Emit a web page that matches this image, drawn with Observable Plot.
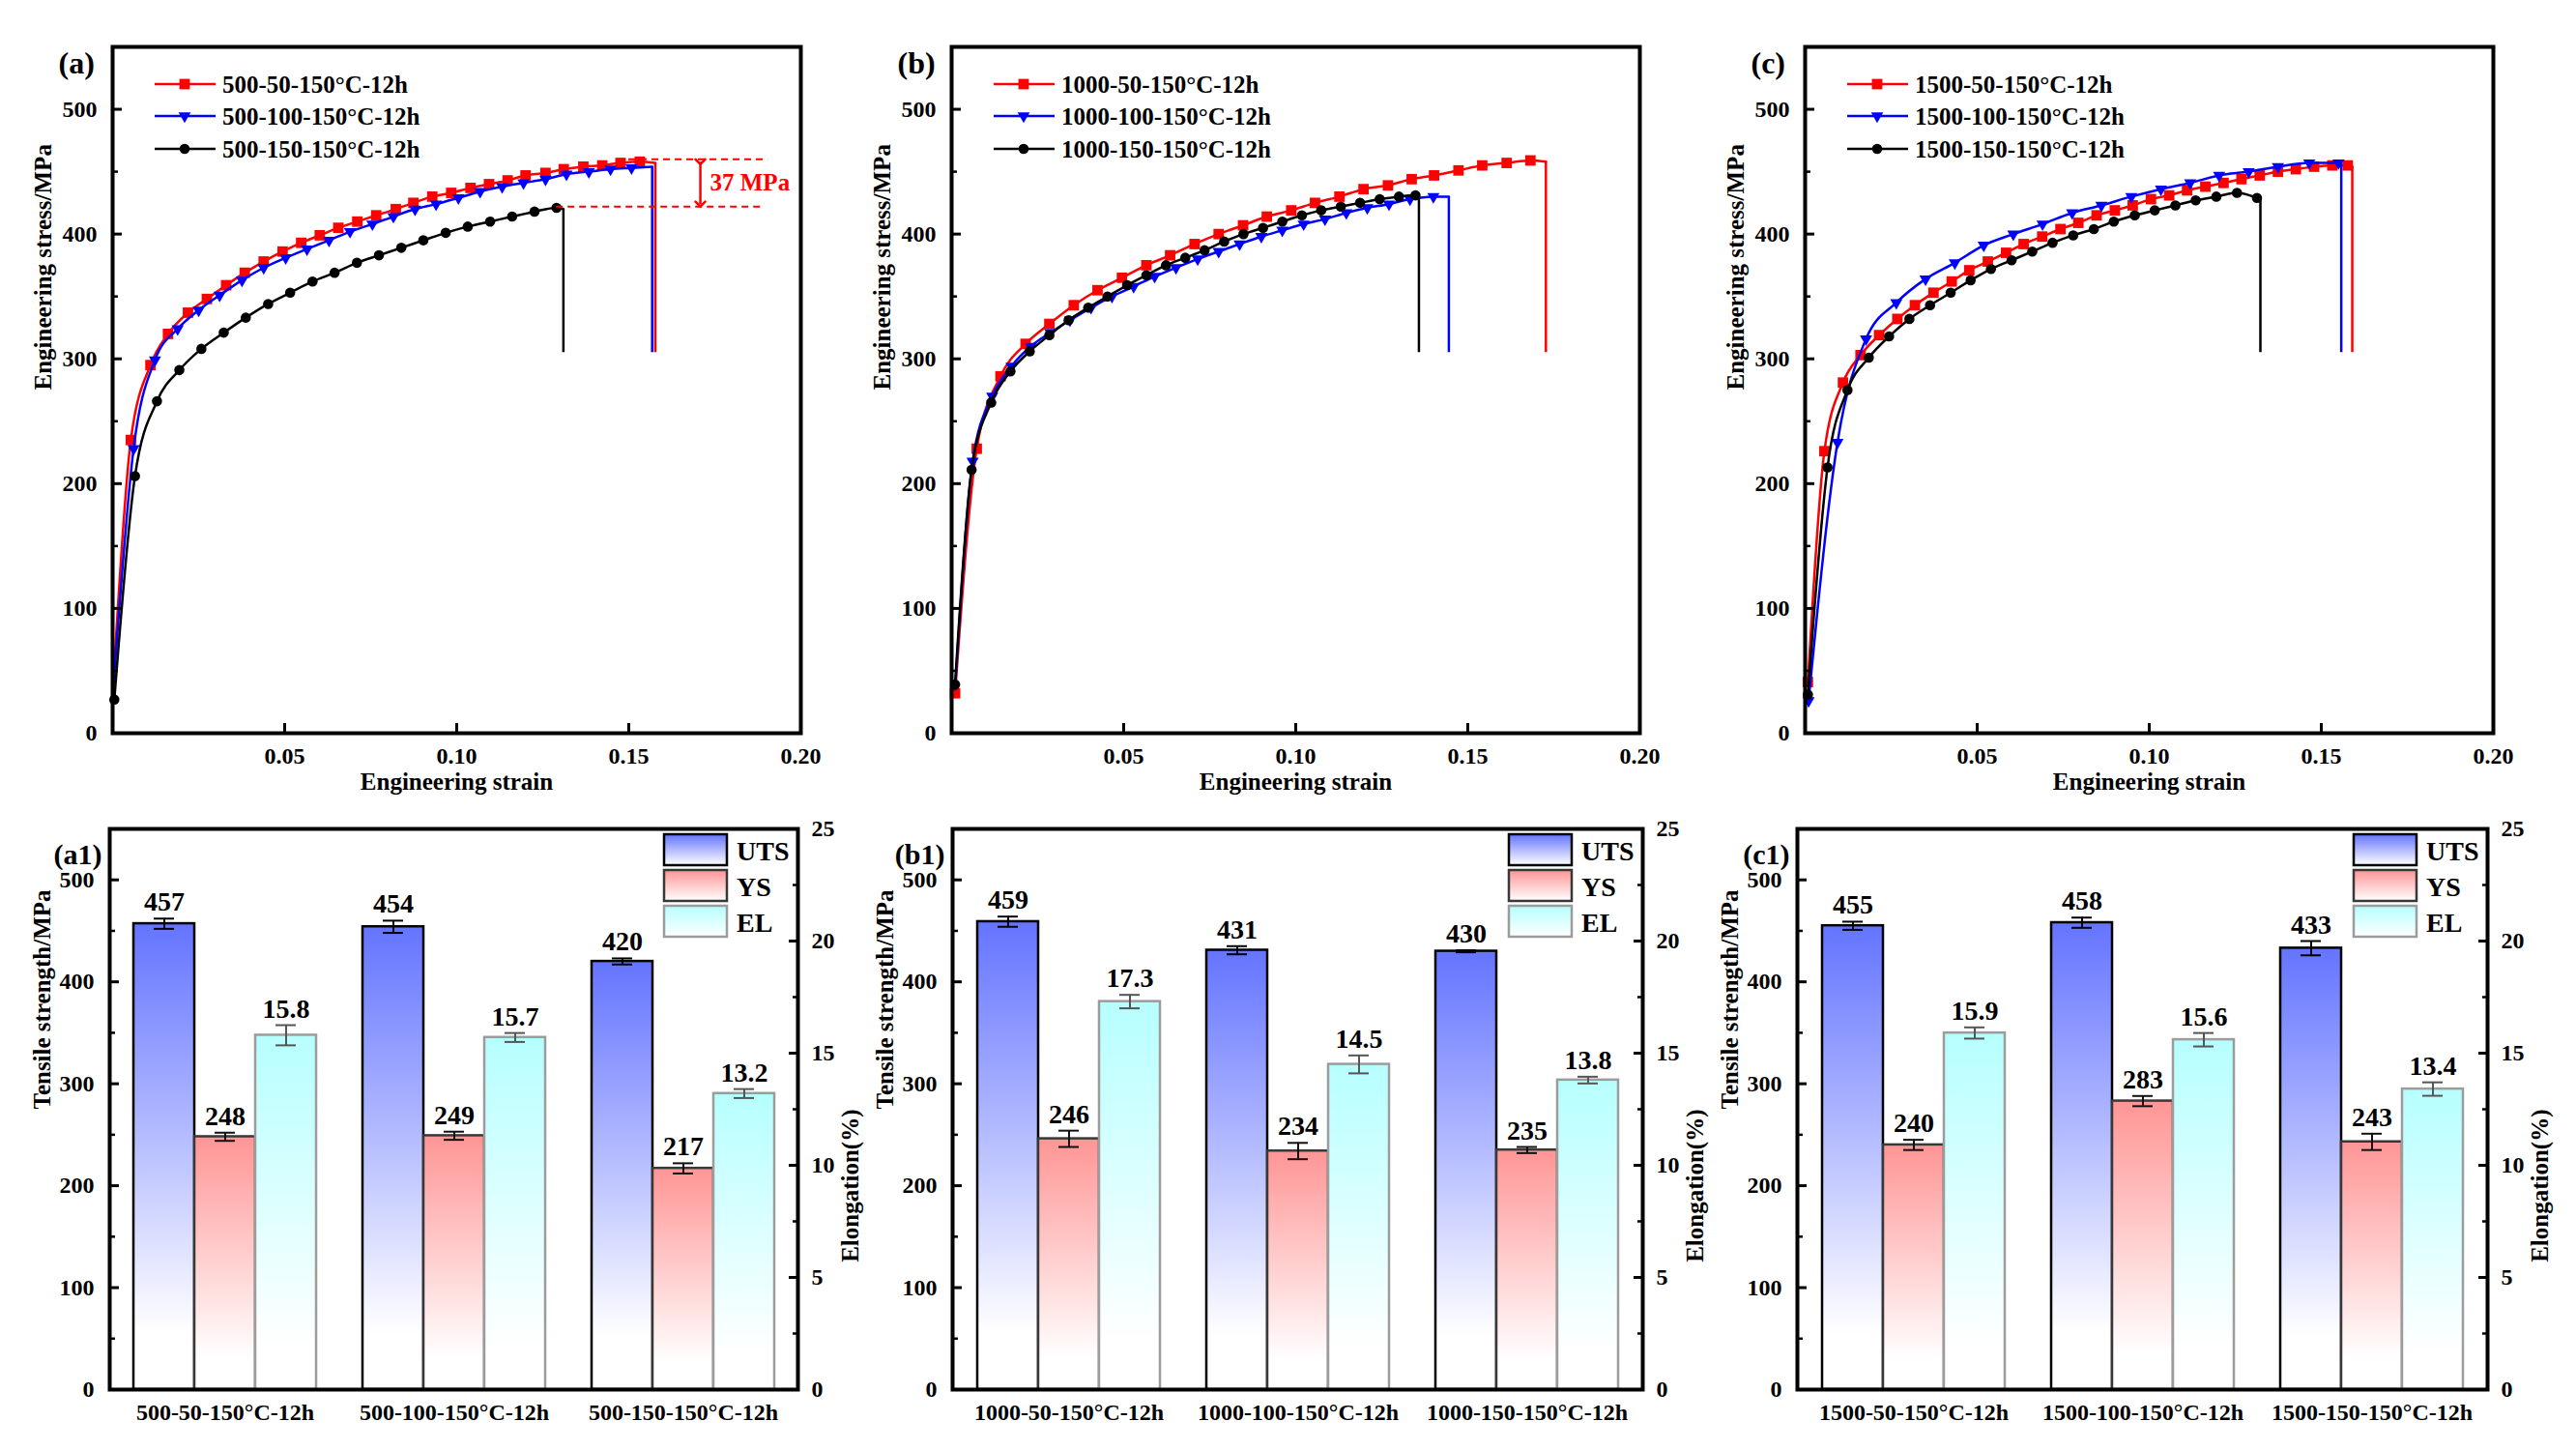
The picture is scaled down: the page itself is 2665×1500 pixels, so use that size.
<!DOCTYPE html>
<html><head><meta charset="utf-8">
<script src="https://cdn.jsdelivr.net/npm/d3@7"></script>
<script src="https://cdn.jsdelivr.net/npm/@observablehq/plot@0.6"></script>
<style>
body{margin:0;background:#fff;}
#root{position:relative;width:2665px;height:1500px;background:#fff;overflow:hidden;}
.layer{position:absolute;}
.layer svg{max-width:none !important;overflow:visible;}
</style></head><body><div id="root"></div>
<script>
// ---------------- DATA ----------------
const DROP_TO = 305;
// Panel (a)
const namesA = ["500-50-150°C-12h","500-100-150°C-12h","500-150-150°C-12h"];
const aRedStrain = [0.0053,0.011,0.0161,0.0219,0.0274,0.033,0.0384,0.0439,0.0494,0.0548,0.0602,0.0656,0.0711,0.0766,0.0823,0.0874,0.0929,0.0984,0.104,0.1094,0.1148,0.12,0.1258,0.1311,0.1368,0.1423,0.1476,0.1532];
const aRedStress = [235,295,320,337,348,359,369,378,386,393,399,405,410,415,420,425,430,433,437,440,443,447,449,452,454,455,457,458];
const aBlueStrain = [0.0061,0.0123,0.0189,0.025,0.0311,0.0376,0.0439,0.0503,0.0565,0.0629,0.069,0.0755,0.0816,0.0879,0.094,0.1005,0.1068,0.1132,0.1194,0.1258,0.1319,0.1384,0.1447,0.1508];
const aBlueStress = [228,299,324,339,351,363,373,381,388,395,402,408,414,420,424,429,434,438,441,444,448,450,452,453];
const aBlackStrain = [0.0005,0.0065,0.0129,0.0194,0.0258,0.0323,0.0387,0.0452,0.0516,0.0581,0.0645,0.071,0.0774,0.0839,0.0903,0.0968,0.1032,0.1097,0.1161,0.1226,0.129];
const aBlackStress = [27,206,266,291,308,321,333,344,353,362,369,377,383,389,395,401,406,410,414,418,421];
const aStart = [[0.0003,45],[0.0003,40],null];
const aEnd = [[0.1577,457],[0.1568,454],[0.131,420]];
// Panel (b)
const namesB = ["1000-50-150°C-12h","1000-100-150°C-12h","1000-150-150°C-12h"];
const bRedStrain = [0.001,0.0073,0.0142,0.0215,0.0284,0.0355,0.0424,0.0495,0.0566,0.0635,0.0706,0.0776,0.0847,0.0916,0.0987,0.1056,0.1127,0.1197,0.1268,0.1337,0.1402,0.1473,0.1542,0.1613,0.1682];
const bRedStress = [32,228,286,312,328,343,355,365,375,383,392,400,407,414,419,425,430,436,439,444,447,451,455,457,459];
const bBlueStrain = [0.0061,0.0118,0.0174,0.023,0.0287,0.0344,0.0405,0.0466,0.0529,0.059,0.0652,0.0715,0.0776,0.0837,0.09,0.0961,0.1023,0.1085,0.1147,0.1208,0.1271,0.1332,0.14];
const bBlueStress = [218,270,294,310,321,331,341,350,358,366,373,380,386,392,398,403,408,412,417,421,424,428,430];
const bBlackStrain = [0.001,0.0058,0.0115,0.0171,0.0227,0.0284,0.034,0.0397,0.0453,0.051,0.0566,0.0623,0.0679,0.0735,0.0792,0.0848,0.0905,0.0961,0.1018,0.1074,0.1131,0.1187,0.1244,0.13,0.1348];
const bBlackStress = [39,211,265,290,306,319,331,341,350,359,367,375,381,387,394,400,405,410,415,419,422,425,428,430,431];
const bStart = [null,[0.001,35],null];
const bEnd = [[0.1727,458],[0.1445,430],[0.1358,429]];
// Panel (c)
const namesC = ["1500-50-150°C-12h","1500-100-150°C-12h","1500-150-150°C-12h"];
const cRedStrain = [0.0008,0.0056,0.011,0.0161,0.0215,0.0268,0.0319,0.0373,0.0426,0.0477,0.0531,0.0584,0.0635,0.0689,0.0742,0.0794,0.0847,0.09,0.0952,0.1005,0.1058,0.111,0.1163,0.1216,0.1268,0.1321,0.1374,0.1426,0.1479,0.1532,0.1577];
const cRedStress = [41,226,281,303,319,332,343,353,362,371,378,385,392,398,404,409,415,419,423,428,431,435,438,441,444,447,450,452,454,455,455];
const cBlueStrain = [0.001,0.0094,0.0177,0.0265,0.035,0.0435,0.0519,0.0605,0.069,0.0776,0.0861,0.0948,0.1034,0.1119,0.1203,0.1289,0.1374,0.1465,0.155];
const cBlueStress = [26,233,316,345,364,377,391,400,408,417,423,430,436,441,447,450,454,457,457];
const cBlackStrain = [0.0008,0.0065,0.0123,0.0185,0.0244,0.0303,0.0363,0.0423,0.0481,0.054,0.06,0.066,0.0719,0.0779,0.0839,0.0897,0.0958,0.1016,0.1076,0.1135,0.1195,0.1255,0.1313];
const cBlackStress = [31,213,275,301,318,332,343,353,363,372,379,386,393,399,404,410,415,419,423,427,430,433,429];
const cStart = [null,null,null];
const cEnd = [[0.159,454],[0.1558,456],[0.1323,428]];
// Annotation of (a)
const annoLines = [{y:460,x1:0.150,x2:0.1905},{y:422,x1:0.129,x2:0.1888}];
const annoArrow = [{x:0.1708,y1:458,y2:424}];
const annoText = [{x:0.1736,y:441,t:"37 MPa"}];
// Bar charts
const METRICS = ["UTS","YS","EL"];
const utsA=[457,454,420], utsErrA=[5,6,3], ysA=[248,249,217], ysErrA=[4,4,5], elA=[15.8,15.7,13.2], elErrA=[0.45,0.2,0.2];
const utsB=[459,431,430], utsErrB=[5,4,1], ysB=[246,234,235], ysErrB=[8,8,3], elB=[17.3,14.5,13.8], elErrB=[0.3,0.4,0.15];
const utsC=[455,458,433], utsErrC=[4,5,7], ysC=[240,283,243], ysErrC=[5,5,8], elC=[15.9,15.6,13.4], elErrC=[0.25,0.3,0.3];
const yTicks = [0,100,200,300,400,500], yMinor=[50,150,250,350,450];
const xTicks = [0.05,0.10,0.15,0.20];
const elTicks = [0,5,10,15,20,25], elMinor=[2.5,7.5,12.5,17.5,22.5];

// ---------------- STYLE ----------------
const FONT = '"Liberation Serif","Times New Roman",Times,serif';
const STYLE = {fontFamily: FONT, fontWeight: "bold", fontSize: "24px", color: "black", background: "transparent", overflow: "visible"};
const triangleDown = {draw(ctx, size){ const y = -Math.sqrt(size/(Math.sqrt(3)*3)); ctx.moveTo(0,-2*y); ctx.lineTo(-Math.sqrt(3)*y, y); ctx.lineTo(Math.sqrt(3)*y, y); ctx.closePath(); }};
const SER = [
  {color:"#ff0000", symbol:"square", d3sym:d3.symbolSquare, r:6.1},
  {color:"#0000ff", symbol:triangleDown, d3sym:triangleDown, r:4.7},
  {color:"#000000", symbol:"circle", d3sym:d3.symbolCircle, r:5.3}
];
const BAR = {UTS:{top:"#6474ff", stroke:"#000000", err:"#000000"}, YS:{top:"#ff9595", stroke:"#383838", err:"#111111"}, EL:{top:"#b6ffff", stroke:"#9c9c9c", err:"#555555"}};

const root = document.getElementById("root");
function place(node, left, top){ const d=document.createElement("div"); d.className="layer"; d.style.left=left+"px"; d.style.top=top+"px"; d.appendChild(node); root.appendChild(d); }

// ---------------- TENSILE PANELS ----------------
const FW = 712, FH = 710;
function tensile(P){
  const mL = P.frameLeft - P.left, mT = 48, mB = 92, mR = 70;
  const marks = [];
  P.series.forEach((s,k)=>{
    const st = SER[k];
    const pts = s.strain.map((x,i)=>({x, y:s.stress[i]}));
    const linePts = (s.start ? [{x:s.start[0], y:s.start[1]}] : []).concat(pts, [{x:s.end[0], y:s.end[1]}]);
    marks.push(Plot.line(linePts, {x:"x", y:"y", stroke:st.color, strokeWidth:2.5, curve:"monotone-x"}));
    marks.push(Plot.ruleX([s.end], {x:d=>d[0], y1:d=>d[1], y2:DROP_TO, stroke:st.color, strokeWidth:2.5}));
    marks.push(Plot.dot(pts, {x:"x", y:"y", fill:st.color, symbol:st.symbol, r:st.r}));
  });
  if (P.anno) {
    marks.push(Plot.ruleY(annoLines, {y:"y", x1:"x1", x2:"x2", stroke:"#ff0000", strokeWidth:2, strokeDasharray:"7,5"}));
    marks.push(Plot.link(annoArrow, {x1:"x", x2:"x", y1:"y1", y2:"y2", stroke:"#ff0000", strokeWidth:2.5, markerStart:"arrow", markerEnd:"arrow"}));
    marks.push(Plot.text(annoText, {x:"x", y:"y", text:"t", fill:"#ff0000", textAnchor:"start", fontSize:25}));
  }
  marks.push(
    Plot.axisY({ticks:yTicks, tickSize:0, tickPadding:16, fontSize:24, label:null}),
    Plot.axisY({ticks:yTicks, tickSize:-10, text:null, strokeWidth:3, label:null}),
    Plot.axisY({ticks:yMinor, tickSize:-6, text:null, strokeWidth:2.5, label:null}),
    Plot.axisX({ticks:xTicks, tickFormat:d3.format(".2f"), tickSize:0, tickPadding:14, fontSize:24, label:null}),
    Plot.axisX({ticks:[0.05,0.10,0.15], tickSize:-10, text:null, strokeWidth:3, label:null}),
    Plot.text(["Engineering stress/MPa"], {text:d=>d, frameAnchor:"left", dx:-72, rotate:-90, fontSize:25}),
    Plot.text(["Engineering strain"], {text:d=>d, frameAnchor:"bottom", dy:58, fontSize:25}),
    Plot.text([P.label], {text:d=>d, frameAnchor:"top-left", dx:-56, dy:5, fontSize:32}),
    Plot.frame({stroke:"black", strokeWidth:4})
  );
  const svg = Plot.plot({width:mL+FW+mR, height:mT+FH+mB, marginLeft:mL, marginRight:mR, marginTop:mT, marginBottom:mB,
    style:STYLE, x:{domain:[0,0.2], label:null}, y:{domain:[0,550], label:null}, marks});
  place(svg, P.left, 0);
}
function ser(strains, stresses, starts, ends){ return strains.map((s,i)=>({strain:s, stress:stresses[i], start:starts[i], end:ends[i]})); }
const topPanels = [
  {label:"(a)", left:0, frameLeft:116, names:namesA, anno:true, series:ser([aRedStrain,aBlueStrain,aBlackStrain],[aRedStress,aBlueStress,aBlackStress],aStart,aEnd)},
  {label:"(b)", left:880, frameLeft:984, names:namesB, anno:false, series:ser([bRedStrain,bBlueStrain,bBlackStrain],[bRedStress,bBlueStress,bBlackStress],bStart,bEnd)},
  {label:"(c)", left:1765, frameLeft:1867, names:namesC, anno:false, series:ser([cRedStrain,cBlueStrain,cBlackStrain],[cRedStress,cBlueStress,cBlackStress],cStart,cEnd)}
];
topPanels.forEach(tensile);

// ---------------- BAR PANELS ----------------
function addGradients(svg, prefix){
  const defs = d3.select(svg).insert("defs", ":first-child");
  for (const m of METRICS){
    const g = defs.append("linearGradient").attr("id", prefix+m).attr("x1",0).attr("y1",0).attr("x2",0).attr("y2",1);
    g.append("stop").attr("offset","0%").attr("stop-color",BAR[m].top);
    g.append("stop").attr("offset","88%").attr("stop-color","#ffffff");
    g.append("stop").attr("offset","100%").attr("stop-color","#ffffff");
  }
}
const FBH = 580;
function bars(B){
  const mL = B.frameLeft - B.left, mT = 37, mB = 63, mR = 90;
  const W = mL + B.frameW + mR, H = mT + FBH + mB;
  const base = {width:W, height:H, marginLeft:mL, marginRight:mR, marginTop:mT, marginBottom:mB, style:STYLE};
  const fx = {domain:B.groups, paddingInner:0.195, paddingOuter:0.099, label:null};
  const x = {domain:METRICS, padding:0, axis:null, label:null};
  const rows = [];
  B.groups.forEach((g,i)=>{ rows.push({g, m:"UTS", v:B.uts[i], e:B.utsErr[i]}); rows.push({g, m:"YS", v:B.ys[i], e:B.ysErr[i]}); });
  const elRows = B.groups.map((g,i)=>({g, m:"EL", v:B.el[i], e:B.elErr[i]}));
  const errMarks = (data, fmt) => [
    Plot.ruleX(data, {fx:"g", x:"m", y1:d=>d.v-d.e, y2:d=>d.v+d.e, stroke:d=>BAR[d.m].err, strokeWidth:2}),
    Plot.tickY(data, {fx:"g", x:"m", y:d=>d.v+d.e, inset:21, stroke:d=>BAR[d.m].err, strokeWidth:2}),
    Plot.tickY(data, {fx:"g", x:"m", y:d=>d.v-d.e, inset:21, stroke:d=>BAR[d.m].err, strokeWidth:2}),
    Plot.text(data, {fx:"g", x:"m", y:d=>d.v+d.e, text:d=>fmt(d.v), dy:-8, lineAnchor:"bottom", fontSize:28})
  ];
  // strengths
  const p1 = Plot.plot({...base, fx, x, y:{domain:[0,550], axis:null, label:null}, color:{type:"identity"}, marks:[
    ...["UTS","YS"].map(m=>Plot.barY(rows.filter(r=>r.m===m), {fx:"g", x:"m", y:"v", fill:`url(#${B.id}${m})`, stroke:BAR[m].stroke, strokeWidth:2.5})),
    ...errMarks(rows, d3.format("d")),
    Plot.axisFx({anchor:"bottom", tickSize:0, tickPadding:14, fontSize:24, label:null})
  ]});
  addGradients(p1, B.id);
  place(p1, B.left, 820);
  // elongation
  const p2 = Plot.plot({...base, fx, x, y:{domain:[0,25], axis:null, label:null}, color:{type:"identity"}, marks:[
    Plot.barY(elRows, {fx:"g", x:"m", y:"v", fill:`url(#${B.id}2EL)`, stroke:BAR.EL.stroke, strokeWidth:2.5}),
    ...errMarks(elRows, d3.format(".1f")),
    Plot.axisFx({anchor:"bottom", tickSize:0, text:null, label:null})
  ]});
  addGradients(p2, B.id+"2");
  place(p2, B.left, 820);
  // left axis + frame
  const p3 = Plot.plot({...base, y:{domain:[0,550], label:null}, marks:[
    Plot.axisY({ticks:yTicks, tickSize:0, tickPadding:16, fontSize:24, label:null}),
    Plot.axisY({ticks:yTicks, tickSize:-10, text:null, strokeWidth:3, label:null}),
    Plot.axisY({ticks:yMinor, tickSize:-6, text:null, strokeWidth:2.5, label:null}),
    Plot.text(["Tensile strength/MPa"], {text:d=>d, frameAnchor:"left", dx:-70, rotate:-90, fontSize:25}),
    Plot.text([B.label], {text:d=>d, frameAnchor:"top-left", dx:-8, dy:15, textAnchor:"end", fontSize:30}),
    Plot.frame({stroke:"black", strokeWidth:4})
  ]});
  place(p3, B.left, 820);
  // right axis
  const p4 = Plot.plot({...base, y:{domain:[0,25], label:null}, marks:[
    Plot.axisY({anchor:"right", ticks:elTicks, tickSize:0, tickPadding:14, fontSize:24, label:null}),
    Plot.axisY({anchor:"right", ticks:elTicks, tickSize:-10, text:null, strokeWidth:3, label:null}),
    Plot.axisY({anchor:"right", ticks:elMinor, tickSize:-6, text:null, strokeWidth:2.5, label:null}),
    Plot.text(["Elongation(%)"], {text:d=>d, frameAnchor:"right", dx:54, rotate:-90, fontSize:25})
  ]});
  place(p4, B.left, 820);
}
const barPanels = [
  {id:"ga", label:"(a1)", left:0, frameLeft:113, frameW:712, groups:namesA, uts:utsA, utsErr:utsErrA, ys:ysA, ysErr:ysErrA, el:elA, elErr:elErrA},
  {id:"gb", label:"(b1)", left:880, frameLeft:985, frameW:714, groups:namesB, uts:utsB, utsErr:utsErrB, ys:ysB, ysErr:ysErrB, el:elB, elErr:elErrB},
  {id:"gc", label:"(c1)", left:1765, frameLeft:1859, frameW:714, groups:namesC, uts:utsC, utsErr:utsErrC, ys:ysC, ysErr:ysErrC, el:elC, elErr:elErrC}
];
barPanels.forEach(bars);

// ---------------- LEGENDS (overlay) ----------------
const ov = d3.create("svg").attr("width",2665).attr("height",1500)
  .style("position","absolute").style("left","0").style("top","0")
  .style("font-family",FONT).style("font-weight","bold");
const odefs = ov.append("defs");
for (const m of METRICS){
  const g = odefs.append("linearGradient").attr("id","lg"+m).attr("x1",0).attr("y1",0).attr("x2",0).attr("y2",1);
  g.append("stop").attr("offset","0%").attr("stop-color",BAR[m].top);
  g.append("stop").attr("offset","100%").attr("stop-color","#ffffff");
}
const legRows = [87,120,154];
topPanels.forEach(P=>{
  const x0 = P.frameLeft + 44;
  P.names.forEach((n,k)=>{
    const y = legRows[k], st = SER[k];
    ov.append("line").attr("x1",x0).attr("x2",x0+63).attr("y1",y).attr("y2",y).attr("stroke",st.color).attr("stroke-width",2.5);
    ov.append("path").attr("d", d3.symbol(st.d3sym, Math.PI*st.r*st.r)()).attr("transform",`translate(${x0+31},${y})`).attr("fill",st.color);
    ov.append("text").attr("x",x0+70).attr("y",y).attr("dominant-baseline","central").attr("font-size",25).text(n);
  });
});
barPanels.forEach(B=>{
  const xr = B.frameLeft + B.frameW, top = 857;
  METRICS.forEach((m,i)=>{
    const y = top + 6 + 37*i;
    ov.append("rect").attr("x",xr-138).attr("y",y).attr("width",65).attr("height",32).attr("fill",`url(#lg${m})`).attr("stroke",BAR[m].stroke).attr("stroke-width",2.5);
    ov.append("text").attr("x",xr-63).attr("y",y+17).attr("dominant-baseline","central").attr("font-size",28).text(m);
  });
});
root.appendChild(ov.node());
</script></body></html>
